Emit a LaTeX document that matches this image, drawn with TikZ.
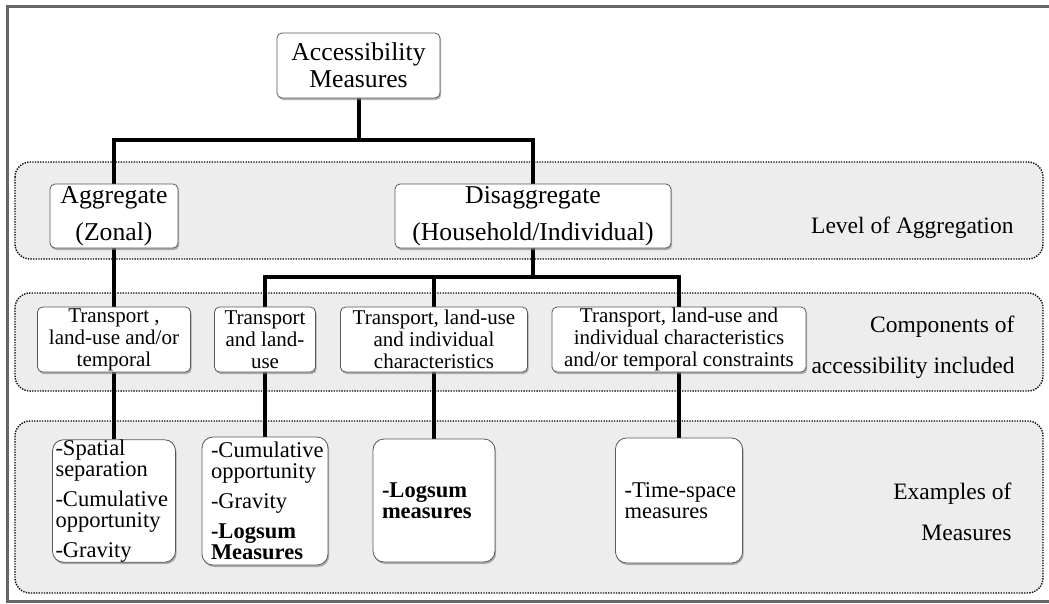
\documentclass[tikz,border=0pt]{standalone}
\usepackage{fontspec}
\setmainfont{Liberation Serif}
\usetikzlibrary{shadows}

\pgfdeclarelayer{bands}
\pgfdeclarelayer{links}
\pgfsetlayers{bands,links,main}

\newcommand{\exfont}{\fontsize{22.5}{21}\selectfont\exhyphenpenalty=10000\relax\hyphenpenalty=10000\relax}

\tikzstyle{box}=[draw=black!65,line width=0.8pt,fill=white,rounded corners=5pt,inner sep=0pt,align=center,drop shadow={shadow xshift=1.2pt,shadow yshift=-2pt,fill=black!50,opacity=0.6}]
\tikzstyle{levelbox}=[box,font=\fontsize{25.7}{37}\selectfont,minimum height=64pt]
\tikzstyle{compbox}=[box,font=\fontsize{21}{22}\selectfont,minimum height=65pt]
\tikzstyle{exbox}=[box,rounded corners=11pt,font=\exfont,align=left,inner xsep=9pt]
\tikzstyle{band}=[fill=black!7,draw=black,line width=1.4pt,dash pattern=on 1.3pt off 1.3pt,rounded corners=15pt]
\tikzstyle{link}=[line width=4pt,black]
\tikzstyle{side}=[font=\fontsize{23.5}{41}\selectfont,align=right,anchor=east]

\begin{document}
\begin{tikzpicture}[x=1pt,y=-1pt]
	\useasboundingbox (0,0) rectangle (1049,603);
	\draw[black!60,line width=3pt] (1049,6.5) -- (7,6.5) -- (7,601.5) -- (1049,601.5);
	
	\begin{pgfonlayer}{bands}
		\draw[band] (15,162) rectangle (1043,259);
		\draw[band] (15,293) rectangle (1043,391);
		\draw[band] (15,421) rectangle (1043,593);
	\end{pgfonlayer}
	
	\node[box,font=\fontsize{25.7}{27}\selectfont,minimum width=163pt,minimum height=65pt] (acc) at (358.5,65.5) {Accessibility\\Measures};
	
	\node[levelbox,minimum width=128pt] (agg) at (114,216) {Aggregate\\(Zonal)};
	\node[levelbox,minimum width=276pt] (dis) at (533,216) {Disaggregate\\(Household/Individual)};
	\node[side] (lvl) at (1017,227.5) {Level of Aggregation};
	
	\node[compbox,minimum width=153pt] (c1) at (114,339.5) {Transport ,\\land-use and/or\\temporal};
	\node[compbox,minimum width=101pt] (c2) at (265,339.5) {Transport\\and land-\\use};
	\node[compbox,minimum width=187pt] (c3) at (434,339.5) {Transport, land-use\\and individual\\characteristics};
	\node[compbox,minimum width=254pt] (c4) at (679,339.5) {Transport, land-use and\\individual characteristics\\and/or temporal constraints};
	\node[side] (comp) at (1018,347) {Components of\\accessibility included};
	
	\node[exbox,inner xsep=3pt,text width=117pt,minimum height=122pt] (e1) at (114,501) {-Spatial\\separation\\[9pt]-Cumulative\\opportunity\\[9pt]-Gravity};
	\node[exbox,text width=108pt,minimum height=128pt] (e2) at (265,501) {-Cumulative\\opportunity\\[9pt]-Gravity\\[9pt]\textbf{-Logsum}\\\textbf{Measures}};
	\node[exbox,text width=104pt,minimum height=123pt] (e3) at (434,500.5) {\textbf{-Logsum}\\\textbf{measures}};
	\node[exbox,text width=109pt,minimum height=125pt] (e4) at (679,500.5) {-Time-space\\measures};
	\node[side] (ex) at (1015,512) {Examples of\\Measures};
	
	\coordinate (j1) at (358.5,140);
	\coordinate (j2) at (533,277);
	
	\begin{pgfonlayer}{links}
		\draw[link] (acc) -- (j1);
		\draw[link] (agg) |- (j1) -| (dis);
		\draw[link] (dis) -- (j2);
		\draw[link] (c2) |- (j2) -| (c4);
		\draw[link] (c3) -- (c3 |- j2);
		\draw[link] (agg) -- (c1);
		\foreach \i in {1,...,4}
			\draw[link] (c\i) -- (e\i);
	\end{pgfonlayer}
\end{tikzpicture}
\end{document}
